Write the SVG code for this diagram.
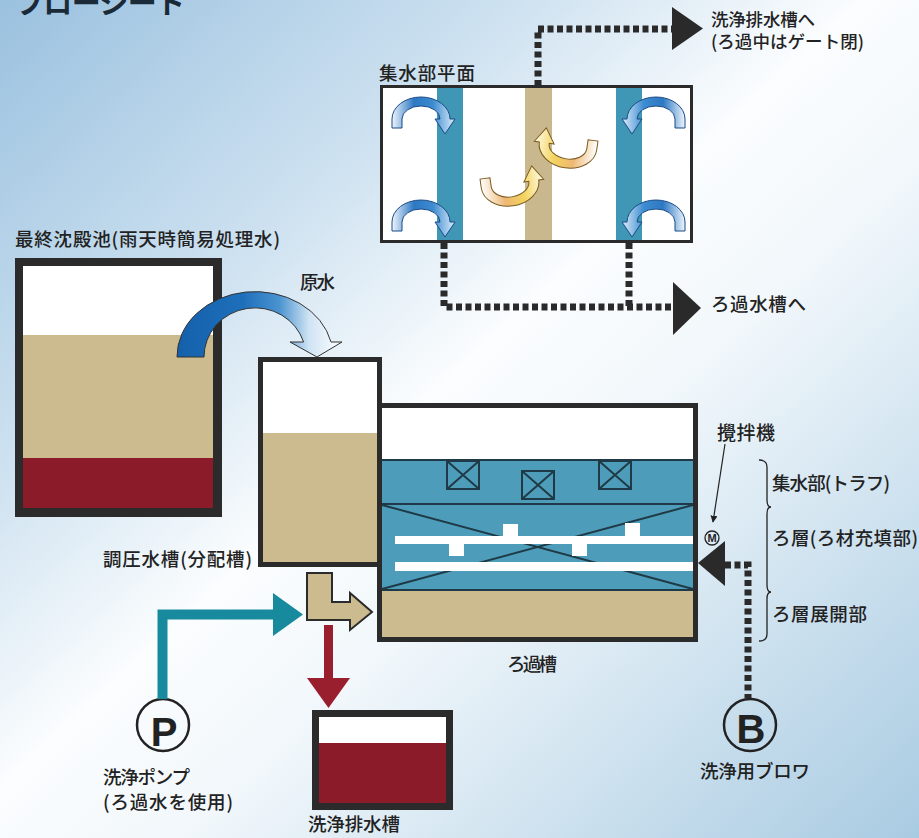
<svg xmlns="http://www.w3.org/2000/svg" width="919" height="838" viewBox="0 0 919 838">
  <defs>
    <linearGradient id="bg" x1="0" y1="0" x2="1" y2="1">
      <stop offset="0" stop-color="#9ac1df"/>
      <stop offset="0.28" stop-color="#cde1f0"/>
      <stop offset="0.47" stop-color="#fbfdfe"/>
      <stop offset="0.6" stop-color="#f1f7fb"/>
      <stop offset="0.85" stop-color="#c3dbeb"/>
      <stop offset="1" stop-color="#a9cbe2"/>
    </linearGradient>
    <linearGradient id="flowBlue" x1="0" y1="0" x2="1" y2="0">
      <stop offset="0" stop-color="#eef5fc"/>
      <stop offset="0.35" stop-color="#2c78c3"/>
      <stop offset="0.65" stop-color="#3d8bd0"/>
      <stop offset="1" stop-color="#dcedfa"/>
    </linearGradient>
    <linearGradient id="flowYellow" x1="0" y1="0" x2="1" y2="0">
      <stop offset="0" stop-color="#ffffff"/>
      <stop offset="0.35" stop-color="#eeb874"/>
      <stop offset="0.65" stop-color="#f3d35c"/>
      <stop offset="1" stop-color="#fffbe6"/>
    </linearGradient>
    <linearGradient id="rawWater" x1="0" y1="0" x2="1" y2="0">
      <stop offset="0" stop-color="#1460ab"/>
      <stop offset="0.4" stop-color="#1e6fbb"/>
      <stop offset="0.62" stop-color="#4a93d0"/>
      <stop offset="0.8" stop-color="#cfe3f3"/>
      <stop offset="1" stop-color="#ffffff"/>
    </linearGradient>
    <!-- small arched flow arrow used in the collector plan -->
    <path id="arch" d="M -29,9 L -29,0 A 29,22 0 0 1 29,0 L 34,0 L 24,15 L 14,0 L 19,0 A 19,13 0 0 0 -19,0 L -19,9 Z"/>
    <marker id="tip" viewBox="0 0 10 10" refX="9" refY="5" markerWidth="7" markerHeight="7" orient="auto" markerUnits="userSpaceOnUse">
      <path d="M0,0 L10,5 L0,10 Z" fill="#222"/>
    </marker>
  </defs>
  <style>
    .t{font-family:"Noto Sans CJK JP","Noto Sans",sans-serif;font-size:18.5px;font-weight:500;fill:#222}
    .wall{fill:#2b2b2b}
    .tan{fill:#ccbb8e}
    .red{fill:#8b1b28}
    .water{fill:#4d9dba}
    .ln{stroke:#1f3a46;stroke-width:2;fill:none}
    .dots{fill:none;stroke:#2a2a2a;stroke-width:7;stroke-dasharray:6 3.5}
    .blk{fill:#2a2a2a}
    .ring{fill:none;stroke:#222;stroke-width:2.5}
    .sym{font-family:"Liberation Sans",Arial,sans-serif;font-weight:bold;font-size:40px;fill:#222;text-anchor:middle}
    .fb{fill:url(#flowBlue);stroke:#1a4a85;stroke-width:1}
    .fy{fill:url(#flowYellow);stroke:#7a5a20;stroke-width:1}
  </style>

  <rect x="0" y="0" width="919" height="838" fill="url(#bg)"/>

  <!-- heading -->
  <text class="t" x="15" y="14" style="font-size:29px;font-weight:bold;fill:#1b2a38" textLength="170" lengthAdjust="spacing">フローシート</text>

  <!-- collector plan view -->
  <g id="plan">
    <rect x="381.5" y="86.5" width="310" height="155" fill="#ffffff"/>
    <rect x="437" y="88" width="26" height="152" fill="#3f97b5"/>
    <rect x="525" y="88" width="27" height="152" fill="#c9b88d"/>
    <rect x="616" y="88" width="26" height="152" fill="#3f97b5"/>
    <rect x="381.5" y="86.5" width="310" height="155" fill="none" stroke="#2b2b2b" stroke-width="3"/>
    <use href="#arch" class="fb" transform="translate(421,119)"/>
    <use href="#arch" class="fb" transform="translate(421,222)"/>
    <use href="#arch" class="fb" transform="translate(656,119) scale(-1,1)"/>
    <use href="#arch" class="fb" transform="translate(656,222) scale(-1,1)"/>
    <use href="#arch" class="fy" transform="translate(510,184) rotate(-8) scale(1,-1)"/>
    <use href="#arch" class="fy" transform="translate(568,146) rotate(8) scale(-1,-1)"/>
    <text class="t" x="379" y="80" textLength="96" lengthAdjust="spacing">集水部平面</text>
  </g>

  <!-- final sedimentation basin -->
  <g id="sedimentation">
    <rect class="wall" x="15" y="258" width="207" height="259"/>
    <rect x="23" y="266" width="190" height="69" fill="#ffffff"/>
    <rect class="tan" x="23" y="335" width="190" height="123"/>
    <rect class="red" x="23" y="458" width="190" height="50"/>
    <text class="t" x="15" y="246" textLength="265" lengthAdjust="spacing">最終沈殿池(雨天時簡易処理水)</text>
  </g>

  <!-- regulating (distribution) tank -->
  <g id="regulating">
    <rect class="wall" x="258" y="357" width="124" height="210"/>
    <rect x="263" y="362" width="114" height="71" fill="#ffffff"/>
    <rect class="tan" x="263" y="433" width="114" height="129"/>
    <text class="t" x="103" y="566" textLength="149" lengthAdjust="spacing">調圧水槽(分配槽)</text>
  </g>

  <!-- filter tank -->
  <g id="filter">
    <rect class="wall" x="377" y="403" width="321" height="239"/>
    <rect x="382" y="408" width="311" height="52" fill="#ffffff"/>
    <rect class="water" x="382" y="460" width="311" height="130"/>
    <rect class="tan" x="382" y="590" width="311" height="47"/>
    <line class="ln" x1="382" y1="460" x2="693" y2="460"/>
    <line class="ln" x1="382" y1="504" x2="693" y2="504"/>
    <line class="ln" x1="382" y1="590" x2="693" y2="590" stroke-width="2.5"/>
    <line class="ln" x1="382" y1="505" x2="693" y2="589" stroke-width="1.5"/>
    <line class="ln" x1="693" y1="505" x2="382" y2="589" stroke-width="1.5"/>
    <!-- troughs -->
    <g class="ln">
      <rect x="447" y="461" width="32" height="28"/>
      <path d="M447,461 L479,489 M479,461 L447,489"/>
      <rect x="522" y="471" width="32" height="28"/>
      <path d="M522,471 L554,499 M554,471 L522,499"/>
      <rect x="599" y="461" width="32" height="28"/>
      <path d="M599,461 L631,489 M631,461 L599,489"/>
    </g>
    <!-- agitator pipes -->
    <g fill="#ffffff">
      <rect x="395" y="536" width="298" height="8"/>
      <rect x="395" y="562" width="298" height="9"/>
      <rect x="503" y="524" width="15" height="12"/>
      <rect x="625" y="523" width="15" height="13"/>
      <rect x="449" y="544" width="15" height="12"/>
      <rect x="572" y="544" width="15" height="12"/>
    </g>
    <text class="t" x="507" y="671" textLength="50" lengthAdjust="spacing">ろ過槽</text>
  </g>

  <!-- agitator motor -->
  <g id="agitator">
    <circle cx="712" cy="538" r="7" fill="none" stroke="#222" stroke-width="1.3"/>
    <text x="712" y="542" style="font-family:'Liberation Sans',Arial,sans-serif;font-size:11px;font-weight:bold;fill:#222;text-anchor:middle">M</text>
    <text class="t" x="717" y="440" style="font-size:19px" textLength="58" lengthAdjust="spacing">攪拌機</text>
  </g>

  <!-- zone labels -->
  <g id="zones">
    <path d="M759,460 Q767,460 767,467 L767,500 Q767,507 771,507 Q767,507 767,514 L767,585 Q767,592 771,592 Q767,592 767,599 L767,634 Q767,641 759,641" fill="none" stroke="#222" stroke-width="1.3"/>
    <text class="t" x="772" y="490" textLength="118" lengthAdjust="spacing">集水部(トラフ)</text>
    <text class="t" x="772" y="545" textLength="146" lengthAdjust="spacing">ろ層(ろ材充填部)</text>
    <text class="t" x="772" y="621" textLength="95" lengthAdjust="spacing">ろ層展開部</text>
  </g>

  <!-- backwash drain tank -->
  <g id="drain">
    <rect class="wall" x="312" y="710" width="141" height="100"/>
    <rect x="319" y="717" width="127" height="26" fill="#ffffff"/>
    <rect class="red" x="319" y="743" width="127" height="60"/>
    <text class="t" x="308" y="831" textLength="92" lengthAdjust="spacing">洗浄排水槽</text>
  </g>

  <!-- backwash pump -->
  <g id="pump">
    <circle class="ring" cx="163" cy="725" r="26"/>
    <text class="sym" x="164" y="746">P</text>
    <text class="t" x="103" y="784" textLength="87" lengthAdjust="spacing">洗浄ポンプ</text>
    <text class="t" x="103" y="809" textLength="130" lengthAdjust="spacing">(ろ過水を使用)</text>
  </g>

  <!-- backwash blower -->
  <g id="blower">
    <circle class="ring" cx="750" cy="725" r="26"/>
    <text class="sym" x="751" y="743">B</text>
    <text class="t" x="700" y="778" textLength="110" lengthAdjust="spacing">洗浄用ブロワ</text>
  </g>

  <!-- outlet labels -->
  <g id="outlets">
    <text class="t" style="font-size:17.5px">
      <tspan x="711" y="26" textLength="104" lengthAdjust="spacing">洗浄排水槽へ</tspan>
      <tspan x="711" y="48" textLength="153" lengthAdjust="spacing">(ろ過中はゲート閉)</tspan>
    </text>
    <text class="t" x="711" y="311" textLength="95" lengthAdjust="spacing">ろ過水槽へ</text>
  </g>

  <g id="connectors">
    <!-- raw water transfer -->
    <path d="M177,357 A78,65 0 0 1 331,342 L342,342 L317,357 L290,342 L303.6,342 A51,49 0 0 0 204,357 Z" fill="url(#rawWater)" stroke="#333" stroke-width="1"/>
    <text class="t" x="300" y="289" textLength="35" lengthAdjust="spacing">原水</text>
    <!-- distribution outlet into filter -->
    <path d="M307,573 H332 V602 H350 V593 L372,612 L350,630 V620 H307 Z" class="tan" stroke="#2b2b2b" stroke-width="2"/>
    <!-- backwash water from pump -->
    <path d="M162.5,699 V614.5 H275" fill="none" stroke="#188a9e" stroke-width="10"/>
    <polygon points="273,593 303,614.5 273,636" fill="#188a9e"/>
    <!-- backwash drain -->
    <line x1="328.5" y1="625" x2="328.5" y2="680" stroke="#9a1f2e" stroke-width="9"/>
    <polygon points="307,678 350,678 328.5,708" fill="#9a1f2e"/>
    <!-- collector gates -->
    <path class="dots" d="M538,86 V29 H672"/>
    <polygon class="blk" points="672,7 703,28.5 672,50"/>
    <path class="dots" d="M444,243 V307 H673"/>
    <path class="dots" d="M629,243 V307"/>
    <polygon class="blk" points="673,282 701,308 673,335"/>
    <!-- blower air -->
    <path class="dots" d="M725,565 H748 V698"/>
    <polygon class="blk" points="725,541 698,563 725,586"/>
    <!-- agitator pointer -->
    <line x1="725" y1="444" x2="713" y2="522" stroke="#222" stroke-width="1.2" marker-end="url(#tip)"/>
  </g>
</svg>
